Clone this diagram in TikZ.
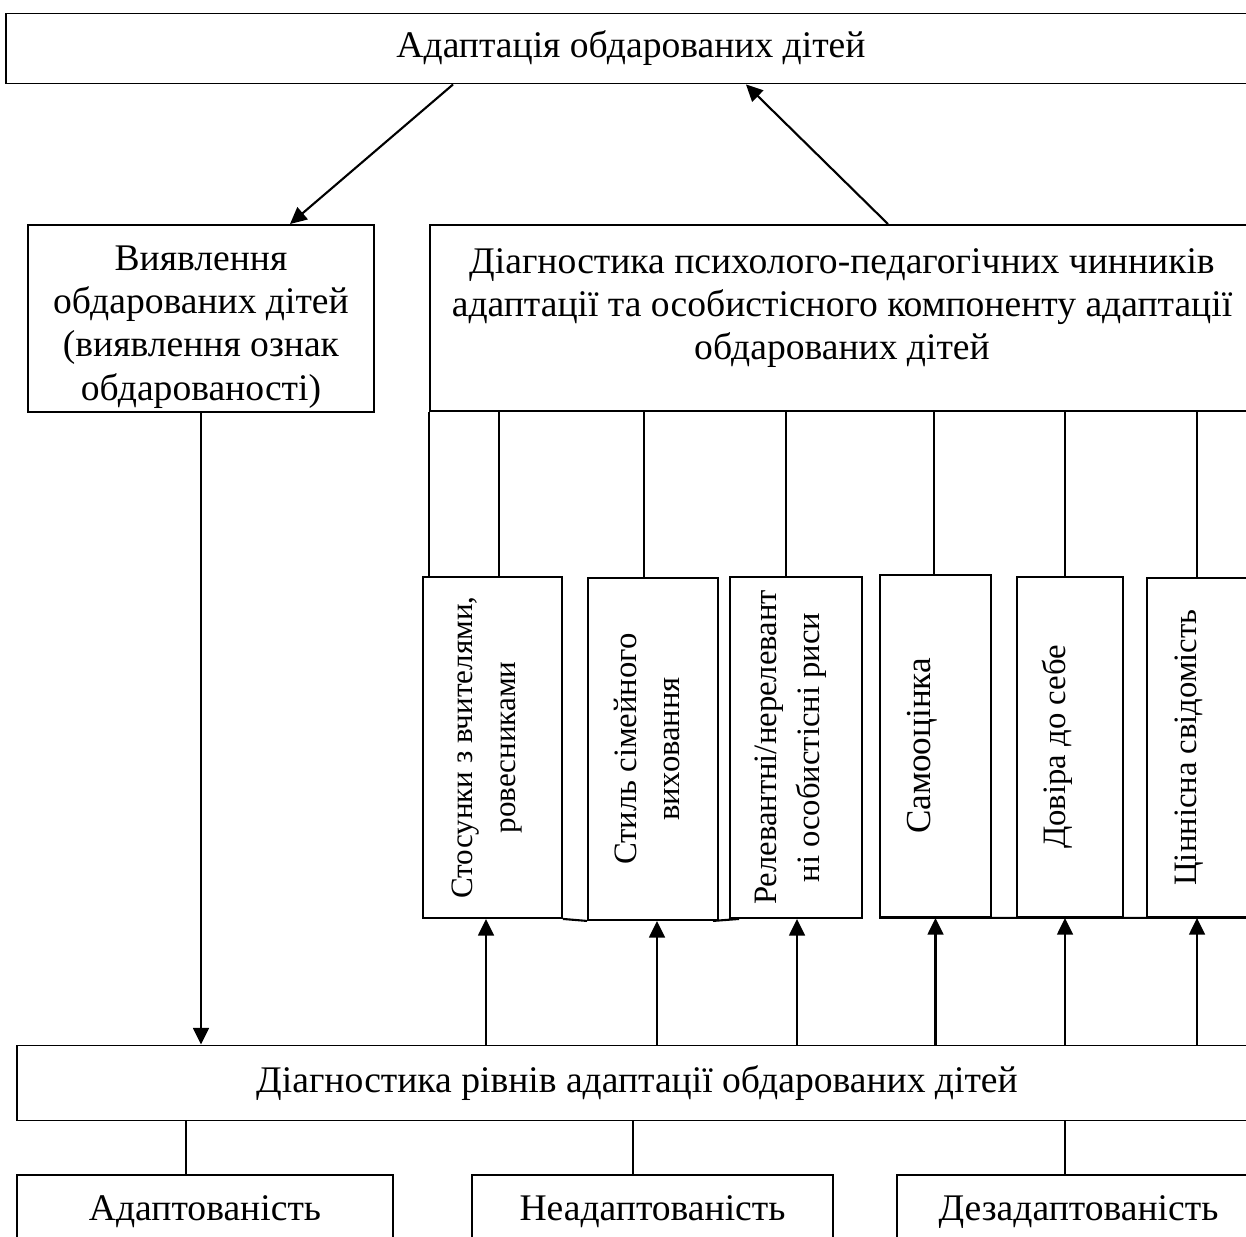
\documentclass[tikz,border=0pt]{standalone}
\usepackage{fontspec}
\setmainfont{Liberation Serif}
\usepackage{graphicx}
\usetikzlibrary{arrows.meta}

% rotated text; optional space pushes it to the left inside its box
\newcommand{\vtext}[2][0cm]{\rotatebox{90}{\fontsize{18.6}{24.5}\selectfont\begin{tabular}{@{}c@{}}#2\end{tabular}}\hspace*{#1}}

\tikzset{
    txt/.style={font=\fontsize{21.4}{24.5}\selectfont},
    box/.style={draw, line width=1.1pt, inner sep=0pt, align=center, txt},
    link/.style={line width=1.2pt},
    arr/.style={line width=1.2pt, -{Triangle[length=9.5pt,width=9pt]}}
}

\begin{document}
\begin{tikzpicture}[x=0.02cm, y=-0.02cm]
    \useasboundingbox (0,0) rectangle (1246,1236);
    \clip (0,0) rectangle (1246,1236);

    % top level
    \node[box, minimum width=25cm, minimum height=1.4cm] (adapt) at (631,48.5) {Адаптація обдарованих дітей};

    \node[box, minimum width=6.92cm, minimum height=3.74cm,
        label={[txt, align=center, anchor=north, yshift=-0.32cm]north:Виявлення\\обдарованих дітей\\(виявлення ознак\\обдарованості)}] (reveal) at (201,318.5) {};
    \node[box, minimum width=16.48cm, minimum height=3.72cm,
        label={[txt, align=center, anchor=north, yshift=-0.36cm]north:Діагностика психолого-педагогічних чинників\\адаптації та особистісного компоненту адаптації\\обдарованих дітей}] (factors) at (842,318) {};

    % factors
    \node[box, minimum width=2.78cm, minimum height=6.82cm] (rel) at (492.5,747.5) {\vtext[0.28cm]{\fontsize{17.7}{24.5}\selectfont Стосунки з вчителями,\\\fontsize{17.7}{24.5}\selectfont ровесниками}};
    \node[box, minimum width=2.6cm, minimum height=6.84cm] (style) at (653,749) {\vtext[0.16cm]{Стиль сімейного\\виховання}};
    \node[box, minimum width=2.64cm, minimum height=6.82cm] (relev) at (796,747.5) {\vtext[0.28cm]{Релевантні/нерелевант\\ні особистісні риси}};
    \node[box, minimum width=2.22cm, minimum height=6.84cm] (selfest) at (935.5,746) {\vtext[0.56cm]{\fontsize{20}{24.5}\selectfont Самооцінка}};
    \node[box, minimum width=2.12cm, minimum height=6.8cm] (trust) at (1070,747) {\vtext[0.52cm]{Довіра до себе}};
    \node[box, minimum width=2.26cm, minimum height=6.78cm] (values) at (1203.5,747.5) {\vtext[0.64cm]{Ціннісна свідомість}};

    % levels
    \node[box, minimum width=24.79cm, minimum height=1.5cm] (levels) at (637,1083) {Діагностика рівнів адаптації обдарованих дітей};
    \node[box, minimum width=7.51cm, minimum height=1.48cm] (adapted) at (205,1212) {Адаптованість};
    \node[box, minimum width=7.22cm, minimum height=1.48cm] (nonadapted) at (652.5,1212) {Неадаптованість};
    \node[box, minimum width=7.26cm, minimum height=1.48cm] (maladapted) at (1078.5,1212) {Дезадаптованість};

    % connectors
    \draw[arr] ([xshift=-3.56cm]adapt.south) -- ([xshift=1.78cm]reveal.north);
    \draw[arr] ([xshift=0.92cm]factors.north) -- ([xshift=2.3cm]adapt.south);
    \draw[arr] (reveal.south) -- (reveal.south |- levels.north);

    \draw[link] (factors.south west) -- (factors.south west |- rel.north);
    \foreach \b/\d in {rel/0.13, style/-0.18, relev/-0.2, selfest/-0.03, trust/-0.1, values/-0.13}
        \draw[link] ([xshift=\d cm]\b.north |- factors.south) -- ([xshift=\d cm]\b.north);
    \foreach \b/\d in {rel/-0.13, style/0.08, relev/0.02, selfest/0, trust/-0.1, values/-0.13}
        \draw[arr] ([xshift=\d cm]\b.south |- levels.north) -- ([xshift=\d cm]\b.south);

    \draw[link] (rel.south east) -- (style.south west);
    \draw[link] ([xshift=-0.12cm]style.south east) -- ([xshift=0.2cm]relev.south west);
    \draw[link] (selfest.south west) -- (values.south east);

    \foreach \b/\d in {adapted/-0.38, nonadapted/-0.39, maladapted/-0.27}
        \draw[link] ([xshift=\d cm]levels.south -| \b.north) -- ([xshift=\d cm]\b.north);
\end{tikzpicture}
\end{document}
